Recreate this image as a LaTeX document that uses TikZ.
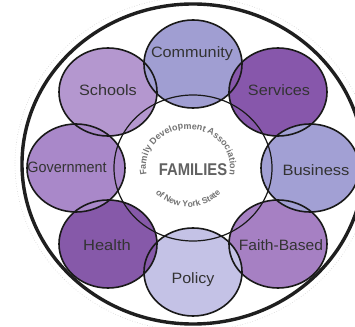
\documentclass[tikz,border=0pt]{standalone}
\usepackage{fontspec}
\setmainfont{Liberation Sans}
\usetikzlibrary{shapes.geometric,decorations.text}
\definecolor{cschool}{HTML}{B497CF}
\definecolor{ccomm}{HTML}{A09ED2}
\definecolor{cserv}{HTML}{8757AB}
\definecolor{cbus}{HTML}{A2A0D4}
\definecolor{cfaith}{HTML}{A680C3}
\definecolor{cpolicy}{HTML}{C4C2E6}
\definecolor{chealth}{HTML}{8659A9}
\definecolor{cgov}{HTML}{A988C9}
\begin{document}
\begin{tikzpicture}[x=1pt,y=1pt,
  ringfill/.style={ellipse, minimum width=98pt, minimum height=88pt, inner sep=0pt},
  ringline/.style={draw=black!90, line width=1.6pt},
  lbl/.style={font=\fontsize{15}{17}\selectfont, text=black!80, inner sep=0pt},
  arctext/.style={decorate, decoration={text along path, text align=center, text color=black!55}},
]
\useasboundingbox (0,0) rectangle (355,326);
\clip (0,0) rectangle (355,326);
\fill[white] (0,0) rectangle (355,326);
\coordinate (ctr) at (193,158);
\coordinate (arcc) at (188,159);
% outer rings
\draw[black!18, dotted, line width=0.6pt] (193,162) ellipse [x radius=178, y radius=167];
\draw[black!88, line width=3.4pt] (193,162) ellipse [x radius=171, y radius=160];
% filled circles
\node[ringfill, fill=cschool] (schools) at (108,234) {};
\node[ringfill, fill=ccomm] (community) at (193,262) {};
\node[ringfill, fill=cserv] (services) at (278,234) {};
\node[ringfill, fill=cfaith] (faith) at (278,82) {};
\node[ringfill, fill=cbus] (business) at (310,158) {};
\node[ringfill, fill=cpolicy] (policy) at (193,54) {};
\node[ringfill, fill=chealth] (health) at (108,82) {};
\node[ringfill, fill=cgov] (government) at (76,158) {};
% outlines
\foreach \n in {schools,community,services,faith,business,policy,health,government}
  \draw[ringline] (\n.center) ellipse [x radius=49, y radius=44];
\draw[black!90, line width=1.2pt] (ctr) ellipse [x radius=79, y radius=73];
% labels
\node[lbl] (tcomm) at (192,272) {\scalebox{1.08}[1]{Community}};
\node[lbl] (tschools) at (108,236) {\scalebox{1.08}[1]{Schools}};
\node[lbl] (tserv) at (279,236) {\scalebox{1.08}[1]{Services}};
\node[lbl] (tgov) at (67,159) {\scalebox{0.96}[1]{Government}};
\node[lbl] (tbus) at (316,156) {\scalebox{1.1}[1]{Business}};
\node[lbl] (thealth) at (107,81) {\scalebox{1.1}[1]{Health}};
\node[lbl] (tfaith) at (281,81) {\scalebox{1.04}[1]{Faith-Based}};
\node[lbl] (tpolicy) at (193,46) {\scalebox{1.07}[1]{Policy}};
% center
\node[font=\fontsize{17}{19}\selectfont\bfseries, text=black!62, inner sep=0pt] (fam) at (193,156) {\scalebox{0.87}[1]{FAMILIES}};
\path[arctext, decoration={text={|\fontsize{9}{10}\selectfont\bfseries|Family Development Association}}]
  (arcc) ++(205:42 and 38) arc[start angle=205, end angle=-25, x radius=42, y radius=38];
\path[arctext, decoration={text={|\fontsize{8.6}{10}\selectfont\bfseries|of New York State}}]
  (arcc) ++(195:43 and 40) arc[start angle=195, end angle=345, x radius=43, y radius=40];
\end{tikzpicture}
\end{document}
